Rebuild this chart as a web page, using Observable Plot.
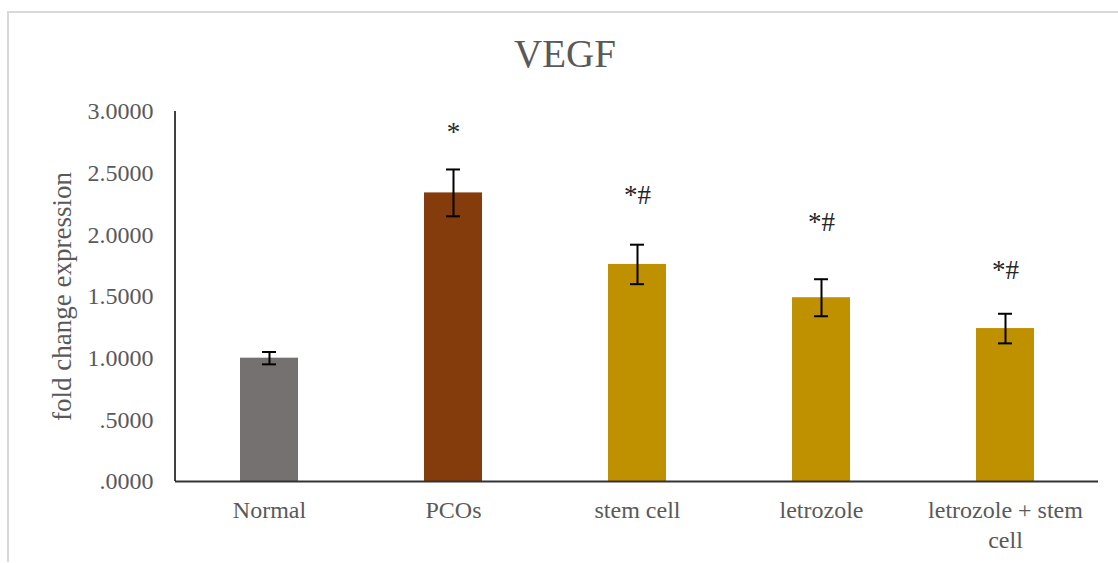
<!DOCTYPE html>
<html>
<head>
<meta charset="utf-8">
<script src="https://cdn.jsdelivr.net/npm/d3@7"></script>
<script src="https://cdn.jsdelivr.net/npm/@observablehq/plot@0.6"></script>
<style>
  html, body { margin: 0; padding: 0; background: #fff; }
  #wrap { position: relative; width: 1118px; height: 563px; overflow: hidden; font-family: "Liberation Serif", "Times New Roman", serif; }
  #box { position: absolute; left: 7px; top: 11px; width: 1200px; height: 549px; border-top: 2px solid #d9d9d9; border-left: 2px solid #d9d9d9; }
  #title { position: absolute; left: 0; width: 1130px; top: 31px; text-align: center; font-size: 39px; color: #595959; line-height: 46px; }
  #chart { position: absolute; left: 0; top: 95px; }
  #chart svg, #chart svg text { font-family: "Liberation Serif", "Times New Roman", serif !important; }
</style>
</head>
<body>
<div id="wrap">
  <div id="box"></div>
  <div id="title">VEGF</div>
  <div id="chart"></div>
</div>
<script>
const categories = ["Normal", "PCOs", "stem cell", "letrozole", "letrozole + stem cell"];
const values = [1.0, 2.34, 1.76, 1.49, 1.24];
const errors = [0.05, 0.19, 0.16, 0.15, 0.12];
const colors = ["#767171", "#843C0C", "#BF9000", "#BF9000", "#BF9000"];
const marks = ["", "*", "*#", "*#", "*#"];
const markY = [null, 2.83, 2.32, 2.10, 1.71];
const yTicks = [0, 0.5, 1, 1.5, 2, 2.5, 3];
const tickLabels = { "letrozole + stem cell": "letrozole + stem\ncell" };

const SERIF = "'Liberation Serif', 'Times New Roman', serif";

const data = categories.map((c, i) => ({
  cat: c, value: values[i], err: errors[i], color: colors[i], mark: marks[i], markY: markY[i]
}));

const yAxisLine = (index, scales, values, dims) => {
  const g = d3.create("svg:line")
    .attr("x1", dims.marginLeft).attr("x2", dims.marginLeft)
    .attr("y1", scales.y(3)).attr("y2", scales.y(0))
    .attr("stroke", "#000").attr("stroke-width", 1.5);
  return g.node();
};

const chart = Plot.plot({
  width: 1118,
  height: 468,
  marginTop: 16,
  marginBottom: 82,
  marginLeft: 175,
  marginRight: 20,
  style: { fontFamily: SERIF, fontSize: "24px", color: "#595959", background: "transparent", overflow: "visible" },
  x: { domain: categories, paddingInner: 0.686, paddingOuter: 0.35, label: null },
  y: { domain: [0, 3], label: null },
  marks: [
    Plot.barY(data, { x: "cat", y: "value", fill: "color" }),
    Plot.ruleX(data, { x: "cat", y1: d => d.value - d.err, y2: d => d.value + d.err, stroke: "#000", strokeWidth: 2 }),
    Plot.tickY(data, { x: "cat", y: d => d.value + d.err, stroke: "#000", strokeWidth: 2, insetLeft: 22, insetRight: 22 }),
    Plot.tickY(data, { x: "cat", y: d => d.value - d.err, stroke: "#000", strokeWidth: 2, insetLeft: 22, insetRight: 22 }),
    Plot.text(data.filter(d => d.mark), { x: "cat", y: "markY", text: "mark", fontSize: 27, fontFamily: SERIF, fill: "#262626" }),
    Plot.ruleY([0], { stroke: "#333", strokeWidth: 2 }),
    yAxisLine,
    Plot.axisY({ ticks: yTicks, tickSize: 0, tickPadding: 22, tickFormat: d => d.toFixed(4).replace(/^0/, ""), fontSize: 24, fontFamily: SERIF, fill: "#595959", label: null }),
    Plot.axisX({ tickSize: 0, tickPadding: 15, tickFormat: d => tickLabels[d] || d, fontSize: 24, fontFamily: SERIF, fill: "#595959", lineHeight: 1.25, label: null }),
    Plot.text(["fold change expression"], { frameAnchor: "left", textAnchor: "middle", dx: -113, rotate: -90, fontSize: 27, fontFamily: SERIF, fill: "#595959" })
  ]
});
document.getElementById("chart").appendChild(chart);
</script>
</body>
</html>
